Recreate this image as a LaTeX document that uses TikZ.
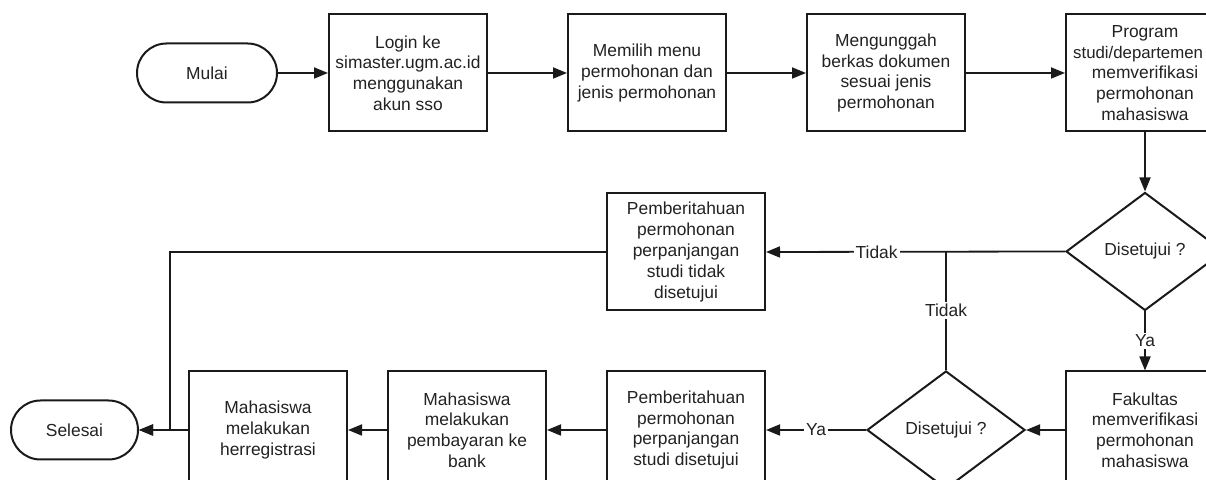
\documentclass[tikz,border=0pt]{standalone}
\usepackage{fontspec}
\setmainfont{Liberation Sans}
\usepackage{tikz}
\usetikzlibrary{calc, positioning, arrows.meta, shapes.geometric}
\definecolor{inkDark}{HTML}{222222}
\definecolor{edgeBlack}{HTML}{1A1A1A}
\newcommand\flowfont{\fontsize{8.7}{10.4}\selectfont}
\tikzset{
  box/.style   = {draw=edgeBlack, line width=1pt, fill=white, rectangle, align=center,
                  font=\flowfont, text=inkDark, inner sep=2pt,
                  minimum width=79pt, minimum height=58.5pt},
  term/.style  = {draw=edgeBlack, line width=1pt, fill=white, rounded corners=14.75pt,
                  align=center, font=\flowfont, text=inkDark, minimum height=29.5pt},
  dec/.style   = {draw=edgeBlack, line width=1pt, fill=white, diamond, inner sep=0pt,
                  font=\flowfont, text=inkDark, minimum width=79pt, minimum height=59pt},
  fl/.style    = {-{Triangle[length=7pt, width=5.5pt]}, draw=edgeBlack, line width=0.9pt},
  ln/.style    = {draw=edgeBlack, line width=0.9pt},
  lbl/.style   = {font=\flowfont, text=inkDark, fill=white, inner sep=1pt}
}

\begin{document}
\begin{tikzpicture}
  \useasboundingbox (0,0) rectangle (603pt,240pt);
  \clip (0,0) rectangle (603pt,240pt);
  \node[term, minimum width=70pt] (mulai) at (103.5pt,203.5pt) {Mulai};
  \node[box, right=25pt of mulai] (login) {Login ke\\simaster.ugm.ac.id\\menggunakan\\akun sso};
  \node[box, right=39.5pt of login] (menu) {Memilih menu\\permohonan dan\\jenis permohonan};
  \node[box, right=39.5pt of menu] (unggah) {Mengunggah\\berkas dokumen\\sesuai jenis\\permohonan};
  \node[box, right=49.5pt of unggah] (prodi) {Program\\\makebox[58pt][r]{\fontsize{8.4}{10.4}\selectfont studi/departemen}\\memverifikasi\\permohonan\\mahasiswa};
  \node[dec, below=29.5pt of prodi] (cekprodi) {Disetujui ?};
  \node[box, below=29.5pt of cekprodi] (fak) {Fakultas\\memverifikasi\\permohonan\\mahasiswa};
  \node[dec, left=19.5pt of fak] (cekfak) {Disetujui ?};
  \node[box, left=50pt of cekfak] (infoya) {Pemberitahuan\\permohonan\\perpanjangan\\studi disetujui};
  \node[box, above=29.5pt of infoya] (infotidak) {Pemberitahuan\\permohonan\\perpanjangan\\studi tidak\\disetujui};
  \node[box, left=29.5pt of infoya] (bayar) {Mahasiswa\\melakukan\\pembayaran ke\\bank};
  \node[box, left=19.5pt of bayar] (herreg) {Mahasiswa\\melakukan\\herregistrasi};
  \node[term, minimum width=63.5pt, left=24.5pt of herreg] (selesai) {Selesai};
  \coordinate (simpang) at (cekfak.north |- cekprodi.west);
  \coordinate (belok) at ($(infotidak.west -| herreg.west)+(-9pt,0)$);
  \draw[fl] (mulai) -- (login);
  \draw[fl] (login) -- (menu);
  \draw[fl] (menu) -- (unggah);
  \draw[fl] (unggah) -- (prodi);
  \draw[fl] (prodi) -- (cekprodi);
  \draw[fl] (cekprodi) -- node[lbl] {Ya} (fak);
  \draw[fl] (cekprodi.west) -- node[lbl, pos=0.63] {Tidak} (infotidak.east);
  \draw[ln] (cekfak.north) -- node[lbl] {Tidak} (simpang);
  \draw[fl] (fak) -- (cekfak);
  \draw[fl] (cekfak.west) -- node[lbl] {Ya} (infoya.east);
  \draw[fl] (infoya) -- (bayar);
  \draw[fl] (bayar) -- (herreg);
  \draw[fl] (herreg) -- (selesai);
  \draw[fl] (infotidak.west) -- (belok) |- (selesai.east);
\end{tikzpicture}
\end{document}
